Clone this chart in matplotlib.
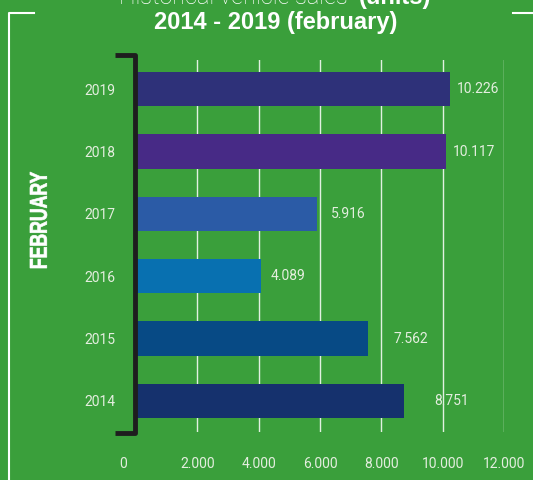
import matplotlib
matplotlib.use("Agg")
import matplotlib.pyplot as plt
from matplotlib.lines import Line2D
from matplotlib.textpath import TextPath
from matplotlib.patches import PathPatch
from matplotlib.font_manager import FontProperties
from matplotlib.transforms import Affine2D, IdentityTransform, ScaledTranslation

# data
years = ["2014", "2015", "2016", "2017", "2018", "2019"]
sales = [8751, 7562, 4089, 5916, 10117, 10226]
value_labels = ["8.751", "7.562", "4.089", "5.916", "10.117", "10.226"]
tick_values = [0, 2000, 4000, 6000, 8000, 10000, 12000]
tick_labels = ["0", "2.000", "4.000", "6.000", "8.000", "10.000", "12.000"]

bar_colors = ["#15316d", "#074a85", "#0870b0", "#2b5ba6", "#472a86", "#2e3179"]
label_offsets = [30, 26, 9, 14, 7, 7]  # px gap between bar end and label
BG = "#3a9f3b"
LIGHT = "#e4eedf"

W, H = 533, 480
fig = plt.figure(figsize=(W / 100, H / 100), dpi=100, facecolor=BG)

def fx(px):
    return px / W

def fy(py):
    return 1 - py / H

ax = fig.add_axes([fx(136), fy(432), fx(504) - fx(136), (432 - 60) / H])
ax.set_facecolor(BG)

ypos = list(range(len(years)))
ax.barh(ypos, sales, height=0.55, color=bar_colors, zorder=3)

for y, v, lab, off in zip(ypos, sales, value_labels, label_offsets):
    ax.annotate(lab, (v, y), xytext=(off * 0.72, 0), textcoords="offset points",
                ha="left", va="center", color=LIGHT, fontsize=10,
                family="Roboto", zorder=4)

ax.set_xlim(0, 12000)
ax.set_ylim(-0.5, 5.47)
for v in tick_values[1:]:
    ax.axvline(v, color="white", lw=1.0, alpha=0.85, zorder=1)

ax.set_xticks(tick_values)
ax.set_xticklabels(tick_labels, family="Roboto", fontsize=10, color=LIGHT)
ax.set_yticks(ypos)
ax.set_yticklabels(years, family="Roboto", fontsize=10, color=LIGHT)
ax.tick_params(axis="x", length=0, pad=18)
ax.tick_params(axis="y", length=0, pad=15)
for s in ax.spines.values():
    s.set_visible(False)
# the "0" label sits a little left of the axis origin
zero = ax.get_xticklabels()[0]
zero.set_transform(zero.get_transform() + ScaledTranslation(-0.13, 0, fig.dpi_scale_trans))

# bracket
fig.add_artist(Line2D([fx(115), fx(135), fx(135), fx(115)],
                      [fy(55), fy(55), fy(433), fy(433)],
                      color="#1e1e1e", lw=3.5, solid_joinstyle="round",
                      solid_capstyle="butt"))

# white frame
fig.add_artist(Line2D([fx(9), fx(9), fx(34)], [fy(480), fy(13), fy(13)],
                      color="white", lw=1.5))
fig.add_artist(Line2D([fx(513), fx(533)], [fy(13), fy(13)],
                      color="white", lw=1.5))

# titles
fig.text(fx(348), fy(4), "Historical vehicle sales", ha="right", va="baseline",
         color="white", fontsize=17, family="Roboto", fontweight="light")
fig.text(fx(359), fy(4), "(units)", ha="left", va="baseline",
         color="white", fontsize=17, family="Liberation Sans", fontweight="bold")
fig.text(fx(276), fy(29), "2014 - 2019 (february)", ha="center", va="baseline",
         color="white", fontsize=17, family="Liberation Sans", fontweight="bold")

# condensed vertical "FEBRUARY": squeeze a text path horizontally
tp = TextPath((0, 0), "FEBRUARY", size=24,
              prop=FontProperties(family="Liberation Sans", weight="bold"))
bb = tp.get_extents()
trans = (Affine2D().translate(-bb.x0 - bb.width / 2, -bb.y0 - bb.height / 2)
         .scale(96 / bb.width, 17 / bb.height).rotate_deg(90)
         .translate(38.5, H - 220))
fig.add_artist(PathPatch(trans.transform_path(tp), facecolor="white",
                         edgecolor="white", lw=0.5, transform=IdentityTransform()))

fig.savefig("out.png", dpi=100, facecolor=BG)
